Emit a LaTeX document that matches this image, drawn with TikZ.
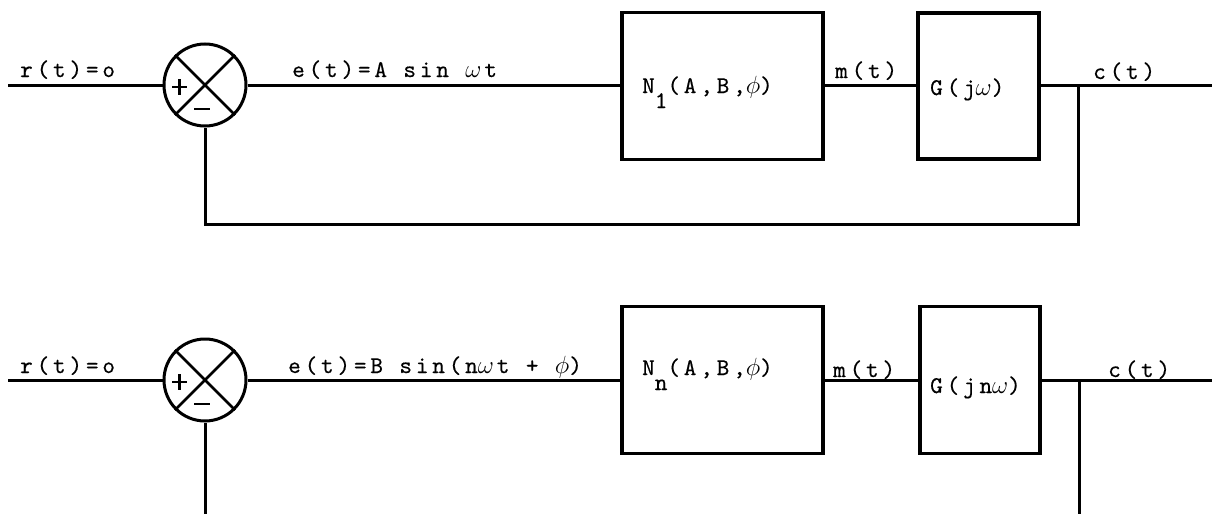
\documentclass[tikz,border=0pt]{standalone}
\usepackage{fontspec}
\usetikzlibrary{calc}
% typewriter face with wide pitch for all labels
\newfontfamily\typewriter[LetterSpace=16,FakeBold=0.4]{lmmono10-regular.otf}
\newcommand\labfont{\typewriter\fontsize{24}{26}\selectfont}
% plus and minus marks inside a summing junction
\newcommand\sumsigns[1]{%
  \draw[signline] ($(#1)+(-33,2)$) -- ++(15,0) ($(#1)+(-25.5,-6)$) -- ++(0,16);
  \draw[signline] ($(#1)+(-11,24)$) -- ++(16,0);
}
\begin{document}
\begin{tikzpicture}[x=1pt,y=-1pt,
  wire/.style={line width=3pt},
  signline/.style={line width=2.6pt},
  block/.style={draw,rectangle,line width=3.2pt,inner sep=0pt},
  sumjunction/.style={draw,circle,line width=3pt,minimum size=82pt,inner sep=0pt},
  lab/.style={font=\labfont,inner sep=0pt,anchor=base west}]
\useasboundingbox (0,0) rectangle (1212,514);

% ---------- fundamental loop ----------
\coordinate (in1) at (8,85);
\node[sumjunction] (sum1) at (205,85) {};
\draw[signline] (sum1.45) -- (sum1.225) (sum1.135) -- (sum1.315);
\sumsigns{sum1}
\node[block,minimum width=201pt,minimum height=147pt] (N1) at (722.5,86) {};
\node[block,minimum width=121pt,minimum height=146pt] (G1) at (978.5,86) {};
\coordinate (b1) at (1078,85);
\coordinate (f1) at (1078,224);
\coordinate (out1) at (1212,85);

\draw[wire] (in1) -- (sum1.west);
\draw[wire] (sum1.east) -- (sum1.east -| N1.west);
\draw[wire] (N1.east |- sum1) -- (G1.west |- sum1);
\draw[wire] (G1.east |- sum1) -- (out1);
\draw[wire] (b1) -- (f1) -| (sum1.south);

\node[lab] (r1) at (20,77) {r(t)=o};
\node[lab] (e1) at (292,77) {e(t)=A sin $\omega$\kern3pt t};
\node[lab] (n1) at (642,93) {N\raisebox{-15pt}{1}(A,B,$\phi$)};
\node[lab] (m1) at (835,78) {m(t)};
\node[lab] (g1) at (930,95) {G(j$\omega$)};
\node[lab] (c1) at (1093,79) {c(t)};

% ---------- harmonic loop ----------
\coordinate (in2) at (8,380);
\node[sumjunction] (sum2) at (205,380) {};
\draw[signline] (sum2.45) -- (sum2.225) (sum2.135) -- (sum2.315);
\sumsigns{sum2}
\node[block,minimum width=201pt,minimum height=147pt] (N2) at (722.5,380) {};
\node[block,minimum width=120pt,minimum height=147pt] (G2) at (980,380) {};
\coordinate (b2) at (1079,380);
\coordinate (f2) at (1079,514);
\coordinate (out2) at (1212,380);
\coordinate (s2) at (205,514);

\draw[wire] (in2) -- (sum2.west);
\draw[wire] (sum2.east) -- (sum2.east -| N2.west);
\draw[wire] (N2.east |- sum2) -- (G2.west |- sum2);
\draw[wire] (G2.east |- sum2) -- (out2);
\draw[wire] (b2) -- (f2);
\draw[wire] (sum2.south) -- (s2);

\node[lab] (r2) at (20,373) {r(t)=o};
\node[lab] (e2) at (288,373) {e(t)=B sin(n$\omega$\kern3pt t + $\phi$)};
\node[lab] (n2) at (642,375) {N\raisebox{-15pt}{n}(A,B,$\phi$)};
\node[lab] (m2) at (833,377) {m(t)};
\node[lab] (g2) at (930,393) {G(jn$\omega$)};
\node[lab] (c2) at (1108,377) {c(t)};
\end{tikzpicture}
\end{document}
